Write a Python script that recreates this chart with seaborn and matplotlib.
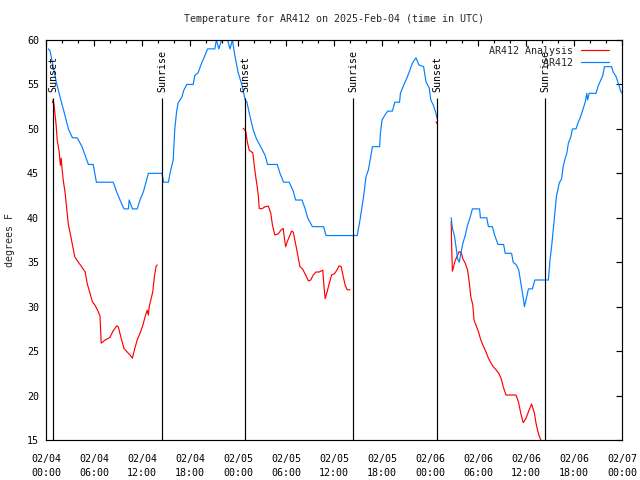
import matplotlib
matplotlib.use("Agg")
import matplotlib.pyplot as plt
import matplotlib.dates as mdates
import numpy as np
import pandas as pd
import seaborn as sns

# hours after 2025-02-04 00:00 UTC
start = pd.Timestamp("2025-02-04 00:00")

# AR412 (station) - segments split by data gaps
obs1_hours = [0.3, 0.5, 0.9, 1.3, 1.75, 2.2, 2.8, 3.3, 3.9, 4.5, 4.9, 5.3, 5.9, 6.3, 8.4, 8.8, 9.25,
              9.75, 10.3, 10.4, 10.8, 11.4, 11.75, 12.2, 12.5, 12.8, 14.5, 14.7, 15.3, 15.5, 15.9,
              16.1, 16.3, 16.5, 17.0, 17.2, 17.6, 18.4, 18.6, 19.0, 19.5, 19.75, 20.2, 21.1, 21.3,
              21.6, 21.95, 22.05, 22.5, 22.7, 23.0, 23.3, 23.6, 24.0, 24.5, 24.9, 25.1, 25.5, 25.9,
              26.3, 26.95, 27.4, 27.7, 28.9, 29.25, 29.7, 30.4, 30.9, 31.2, 32.0, 32.4, 32.7, 33.3,
              34.7, 35.0, 38.9, 39.25, 39.7, 40.0, 40.3, 40.6, 40.8, 41.7, 41.8, 42.0, 42.4, 42.7,
              43.3, 43.6, 44.2, 44.3, 44.75, 45.1, 45.4, 45.8, 46.25, 46.6, 47.2, 47.5, 47.9, 48.1,
              48.4, 48.7, 48.9]
obs1_temps = [59, 58.8, 57, 55.2, 53.6, 52.1, 50, 49, 49, 48, 47, 46, 46, 44, 44, 43, 42,
              41, 41, 42, 41, 41, 42, 43, 44, 45, 45, 44, 44, 45, 46.5,
              50, 51.75, 52.9, 53.6, 54.3, 55, 55, 56, 56.3, 57.5, 58, 59, 59, 60,
              59, 60, 60.5, 60.5, 60, 59, 60, 58.3, 56.4, 54.9, 53.25, 53.06, 51.4, 49.9,
              48.9, 47.8, 47, 46, 46, 45, 44, 44, 43, 42, 42, 41, 40, 39,
              39, 38, 38, 39.75, 42.4, 44.6, 45.4, 46.9, 48, 48, 49.5, 51, 51.6, 52,
              52, 53, 53, 54, 55, 55.7, 56.4, 57.4, 58, 57.2, 57, 55.3, 54.6, 53.25,
              52.7, 51.9, 51.1]
obs2_hours = [50.65, 50.8, 51.05, 51.25, 51.45, 51.65, 51.9, 52.1, 52.4, 52.7, 53.0, 53.3, 54.2,
              54.3, 55.1, 55.3, 55.8, 56.1, 56.5, 57.2, 57.4, 58.2, 58.4, 58.8, 59.1, 59.4, 59.7,
              59.8, 60.0, 60.3, 60.8, 61.1, 62.8, 63.0, 63.2, 63.4, 63.6, 63.8, 64.15, 64.45,
              64.65, 64.9, 65.1, 65.3, 65.6, 65.8, 66.25, 66.55, 66.75, 67.05, 67.4, 67.6, 67.7,
              67.9, 68.75, 69.05, 69.35, 69.6, 69.8, 70.7, 70.9, 71.25, 71.55, 71.85, 72.0]
obs2_temps = [40, 38.8, 38, 36.75, 35.4, 35, 36.2, 37.1, 38, 39.2, 40, 41, 41,
              40, 40, 39, 39, 38, 37, 37, 36, 36, 35, 34.7, 34.1, 32.4, 30.75,
              30, 30.75, 32, 32, 33, 33, 35.25, 36.75, 38.6, 40.5, 42.4, 43.9, 44.4,
              45.75, 46.7, 47.25, 48.4, 49.1, 50, 50, 50.8, 51.2, 52, 53, 54, 53.25,
              54, 54, 54.9, 55.5, 56, 57, 57, 56.4, 55.9, 55.1, 54.2, 54]

# AR412 Analysis - one run per night
ana1_hours = [0.8, 0.9, 1.0, 1.25, 1.4, 1.65, 1.8, 1.9, 2.0, 2.15, 2.4, 2.6, 2.8, 3.1, 3.35, 3.6,
              4.0, 4.45, 4.9, 5.15, 5.5, 5.8, 6.1, 6.45, 6.75, 6.9, 7.4, 8.0, 8.4, 8.85, 9.05,
              9.35, 9.75, 10.15, 10.5, 10.8, 11.1, 11.4, 11.75, 12.1, 12.4, 12.65, 12.8, 12.9,
              13.1, 13.35, 13.55, 13.75, 13.9]
ana1_temps = [52.95, 53.3, 52.7, 50.6, 48.75, 47.4, 45.9, 46.7, 45.6, 44.25, 42.75, 40.9, 39.2,
              37.9, 36.75, 35.6, 35.06, 34.5, 33.9, 32.6, 31.5, 30.55, 30.2, 29.6, 28.95, 25.9,
              26.25, 26.55, 27.3, 27.85, 27.7, 26.6, 25.3, 24.9, 24.56, 24.2, 25.3, 26.25, 27,
              27.9, 28.9, 29.6, 29.06, 30, 30.75, 31.7, 33.4, 34.5, 34.7]
ana2_hours = [24.65, 24.95, 25.15, 25.4, 25.85, 26.05, 26.25, 26.4, 26.55, 26.65, 26.95, 27.4,
              27.8, 28.1, 28.3, 28.6, 29.05, 29.35, 29.65, 29.8, 29.95, 30.15, 30.5, 30.7, 30.9,
              31.1, 31.35, 31.55, 31.75, 32.1, 32.45, 32.8, 33.1, 33.4, 33.75, 34.15, 34.6,
              34.75, 34.9, 35.15, 35.4, 35.7, 36.05, 36.35, 36.65, 36.9, 37.15, 37.4, 37.65, 38.0]
ana2_temps = [50.07, 49.8, 48.6, 47.6, 47.3, 45.75, 44.4, 43.5, 42.4, 41.06, 41, 41.25, 41.3,
              40.5, 39.2, 38.06, 38.2, 38.6, 38.8, 37.7, 36.75, 37.3, 38.06, 38.5, 38.4, 37.5,
              36.4, 35.4, 34.5, 34.2, 33.56, 32.9, 33, 33.56, 33.9, 33.9, 34.1, 32.25, 30.9,
              31.7, 32.6, 33.56, 33.7, 34.1, 34.6, 34.5, 33.4, 32.4, 31.9, 31.9]
ana3_hours = [48.75, 48.9]
ana3_temps = [50.8, 50.6]
ana4_hours = [50.65, 50.7, 50.8, 50.9, 51.1, 51.35, 51.65, 51.9, 52.1, 52.4, 52.7, 52.9, 53.1,
              53.35, 53.5, 53.75, 54.05, 54.35, 54.65, 55.0, 55.3, 55.6, 55.9, 56.25, 56.6, 56.9,
              57.15, 57.5, 58.75, 59.05, 59.35, 59.65, 60.0, 60.4, 60.7, 61.05, 61.25, 61.45,
              61.65, 61.85, 62.0]
ana4_temps = [39.6, 37.1, 34, 34.3, 35.06, 35.6, 36.2, 36.1, 35.4, 34.9, 34.1, 32.8, 31.1,
              30.2, 28.5, 27.9, 27.2, 26.25, 25.6, 24.9, 24.2, 23.7, 23.25, 22.9, 22.5, 21.9,
              21, 20.06, 20.06, 19.3, 18, 16.95, 17.45, 18.4, 19.05, 18, 16.9, 16.1,
              15.45, 15, 14.5]

sunset_hours = [0.9, 24.9, 48.9]
sunrise_hours = [14.5, 38.4, 62.4]

series_names = ["AR412 Analysis", "AR412"]
colors = {"AR412 Analysis": "#ff0000", "AR412": "#0080ff"}

frames = []
pieces = [("AR412 Analysis", ana1_hours, ana1_temps), ("AR412 Analysis", ana2_hours, ana2_temps),
          ("AR412 Analysis", ana3_hours, ana3_temps), ("AR412 Analysis", ana4_hours, ana4_temps),
          ("AR412", obs1_hours, obs1_temps), ("AR412", obs2_hours, obs2_temps)]
for i, (name, hrs, tmp) in enumerate(pieces):
    frames.append(pd.DataFrame({
        "time": start + pd.to_timedelta(hrs, unit="h"),
        "temp": tmp,
        "series": name,
        "seg": i,
    }))
df = pd.concat(frames, ignore_index=True)

sns.set_style("white")
plt.rcParams["font.family"] = ["DejaVu Sans Mono"]
fs = 7.2
plt.rcParams["font.size"] = fs

fig = plt.figure(figsize=(6.4, 4.8), dpi=100)
ax = fig.add_axes([46 / 640, 40 / 480, 576 / 640, 400 / 480])

sns.lineplot(data=df, x="time", y="temp", hue="series", hue_order=series_names,
             units="seg", estimator=None, palette=colors, linewidth=0.85, ax=ax)

# sunrise / sunset markers
for name, hrs in [("Sunset", sunset_hours), ("Sunrise", sunrise_hours)]:
    ts = start + pd.to_timedelta(hrs, unit="h")
    ax.vlines(ts, 15, 53.5, color="black", linewidth=0.85)
    for t in ts:
        ax.text(t, 54.1, name, rotation=90, ha="center", va="bottom", color="black", fontsize=fs)

ax.set_xlim(start, start + pd.Timedelta(hours=72))
ax.set_ylim(15, 60)
ax.set_yticks(np.arange(15, 61, 5))
ax.xaxis.set_major_locator(mdates.HourLocator(byhour=range(0, 24, 6)))
ax.xaxis.set_minor_locator(mdates.HourLocator(byhour=range(0, 24, 2)))
ax.xaxis.set_major_formatter(mdates.DateFormatter("%m/%d\n%H:%M"))

ax.tick_params(axis="both", which="both", direction="in", top=True, right=True,
               color="black", labelcolor="black", labelsize=fs)
ax.tick_params(axis="x", which="major", length=4, width=0.85, pad=10)
ax.tick_params(axis="x", which="minor", length=2.2, width=0.85)
ax.tick_params(axis="y", which="major", length=4, width=0.85, pad=5)
for t in ax.get_xticklabels():
    t.set_linespacing(1.5)
for s in ax.spines.values():
    s.set_color("black")
    s.set_linewidth(0.85)

ax.set_xlabel("")
ax.set_ylabel("degrees F", fontsize=fs)
ax.yaxis.set_label_coords(-0.054, 0.5)
ax.set_title("Temperature for AR412 on 2025-Feb-04 (time in UTC)", pad=13, fontsize=fs)

handles, labels = ax.get_legend_handles_labels()
width = max(len(l) for l in labels)
ax.legend(handles, [l.rjust(width) for l in labels], loc="upper right", frameon=False,
          markerfirst=False, handlelength=2.8, handletextpad=0.8, labelspacing=0.2,
          borderaxespad=0, borderpad=0, bbox_to_anchor=(0.977, 0.985), fontsize=fs)

fig.savefig("out.png", dpi=100)
plt.close(fig)
